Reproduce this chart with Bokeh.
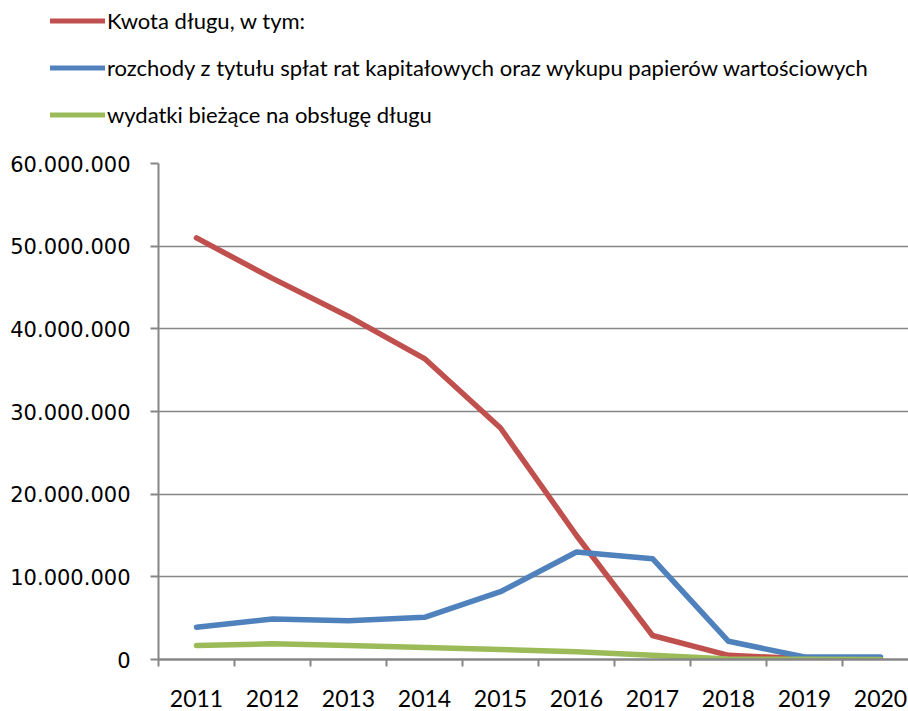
from bokeh.plotting import figure
from bokeh.models import Range1d, FixedTicker, Legend, LegendItem, ColumnDataSource
from bokeh.layouts import column
from bokeh.embed import file_html
from bokeh.resources import INLINE

years = ["2011", "2012", "2013", "2014", "2015", "2016", "2017", "2018", "2019", "2020"]
kwota_dlugu = [51.0e6, 46.1e6, 41.5e6, 36.4e6, 28.0e6, 15.0e6, 2.9e6, 0.5e6, 0.1e6, 0.0]
rozchody = [3.9e6, 4.9e6, 4.7e6, 5.1e6, 8.2e6, 13.0e6, 12.2e6, 2.2e6, 0.3e6, 0.3e6]
wydatki = [1.7e6, 1.9e6, 1.7e6, 1.45e6, 1.2e6, 0.95e6, 0.5e6, 0.05e6, 0.02e6, 0.0]
y_ticks = [0, 10_000_000, 20_000_000, 30_000_000, 40_000_000, 50_000_000, 60_000_000]

series_names = [
    "Kwota długu, w tym:",
    "rozchody z tytułu spłat rat kapitałowych oraz wykupu papierów wartościowych",
    "wydatki bieżące na obsługę długu",
]
colors = ["#C0504D", "#4F81BD", "#9BBB59"]

xpos = [i + 0.5 for i in range(len(years))]

# ---- legend strip (top) ----
lg = figure(width=908, height=140, output_backend="svg", toolbar_location=None,
            x_axis_location=None, y_axis_location=None,
            x_range=Range1d(0, 1), y_range=Range1d(0, 1),
            min_border_left=0, min_border_right=0, min_border_top=0, min_border_bottom=0)
lg.outline_line_color = None
lg.grid.visible = False
# legend-only renderers: same series styles, drawn outside the visible y range of this strip
lsrc = ColumnDataSource(dict(x=[0, 1], y=[5, 5]))
dummy = [lg.line("x", "y", source=lsrc, line_color=c, line_width=5, line_cap="round")
         for c in colors]
legend = Legend(
    items=[LegendItem(label=n, renderers=[r]) for n, r in zip(series_names, dummy)],
    location=(50, 12), orientation="vertical",
    glyph_width=55, glyph_height=25, label_height=25, spacing=20,
    label_standoff=2, padding=0, margin=0,
    border_line_color=None, background_fill_alpha=0,
    label_text_font="Lato", label_text_font_size="22px", label_text_color="black",
    label_text_baseline="middle",
)
lg.add_layout(legend, "center")

# ---- main chart ----
p = figure(width=908, height=571, output_backend="svg", toolbar_location=None,
           x_range=Range1d(0, 750 / 76), y_range=Range1d(0, 60_000_000),
           min_border_left=158, min_border_right=0, min_border_top=23,
           min_border_bottom=52)
p.outline_line_color = None

src = ColumnDataSource(dict(x=xpos, a=kwota_dlugu, b=rozchody, c=wydatki))
for col, color in zip(["a", "b", "c"], colors):
    p.line("x", col, source=src, line_color=color, line_width=5.5,
           line_cap="round", line_join="round")

xa = p.xaxis[0]
xa.ticker = FixedTicker(ticks=xpos, minor_ticks=list(range(0, 11)))
xa.major_label_overrides = {x: y for x, y in zip(xpos, years)}
xa.major_tick_line_color = None
xa.major_tick_out = 0
xa.major_tick_in = 0
xa.minor_tick_line_color = "#868686"
xa.minor_tick_line_width = 2
xa.minor_tick_out = 7
xa.minor_tick_in = 0
xa.axis_line_color = "#868686"
xa.axis_line_width = 2.5
xa.major_label_standoff = 23
xa.major_label_text_font = "Lato"
xa.major_label_text_font_size = "23px"
xa.major_label_text_color = "black"
p.xgrid.grid_line_color = None

ya = p.yaxis[0]
ya.ticker = FixedTicker(ticks=y_ticks, minor_ticks=[])
ya.major_label_overrides = {v: f"{v:,}".replace(",", ".") for v in y_ticks}
ya.major_tick_line_color = "#868686"
ya.major_tick_line_width = 2
ya.major_tick_out = 8
ya.major_tick_in = 0
ya.axis_line_color = "#868686"
ya.axis_line_width = 2
ya.major_label_standoff = 20
ya.major_label_text_font = "DejaVu Sans"
ya.major_label_text_font_size = "21px"
ya.major_label_text_color = "black"
p.ygrid.ticker = FixedTicker(ticks=y_ticks)
p.ygrid.grid_line_color = "#868686"
p.ygrid.grid_line_width = 1.5

layout = column(column(lg), p, spacing=0)
open("out.html", "w").write(file_html(layout, INLINE))
